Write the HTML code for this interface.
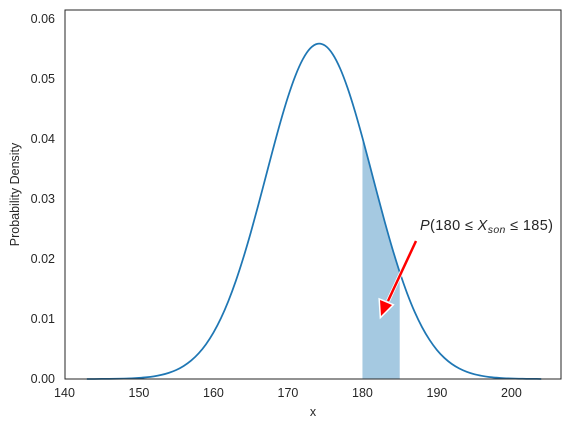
<!DOCTYPE html>
<html><head><meta charset="utf-8"><style>
body{margin:0;background:#fff;}
svg text{font-family:"Liberation Sans","DejaVu Sans",sans-serif;fill:#262626;}
</style></head><body>
<svg id="chart" width="570" height="428" viewBox="0 0 570 428" xmlns="http://www.w3.org/2000/svg">
<g id="plot"></g>
</svg>
<script>
const xs=[143,144,145,146,147,148,149,150,151,152,153,154,155,156,157,158,159,160,161,162,163,164,165,166,167,168,169,170,171,172,173,174,175,176,177,178,179,180,181,182,183,184,185,186,187,188,189,190,191,192,193,194,195,196,197,198,199,200,201,202,203,204];
const density=[0.000004,0.0000073,0.0000131,0.0000229,0.0000395,0.0000666,0.00011,0.000179,0.000285,0.000444,0.000681,0.00102,0.0015,0.00217,0.00307,0.00426,0.0058,0.00774,0.01012,0.01299,0.01634,0.02016,0.02437,0.02891,0.03362,0.03834,0.04288,0.04702,0.05056,0.05331,0.05512,0.05588,0.05555,0.05415,0.05176,0.04851,0.04459,0.04019,0.03552,0.03078,0.02616,0.0218,0.01781,0.01427,0.01121,0.00864,0.00653,0.00483,0.00351,0.0025,0.00175,0.0012,0.0008,0.00053,0.00034,0.00022,0.00013,0.00008,0.00005,0.00003,0.00002,0.00001];
const xTicks=[140,150,160,170,180,190,200];
const yTicks=[0,0.01,0.02,0.03,0.04,0.05,0.06];
const yTickLabels=["0.00","0.01","0.02","0.03","0.04","0.05","0.06"];
const shadeRange=[180,185];

const L=65,R=561,T=10,B=379;
const xMin=140.07,xMax=206.65,yMin=0,yMax=0.0615;
const sx=v=>L+(v-xMin)/(xMax-xMin)*(R-L);
const sy=v=>B-(v-yMin)/(yMax-yMin)*(B-T);
const NS="http://www.w3.org/2000/svg";
const g=document.getElementById('plot');
function mk(tag,attrs){const e=document.createElementNS(NS,tag);for(const k in attrs)e.setAttribute(k,attrs[k]);g.appendChild(e);return e;}
function smooth(P){let s='M'+P[0][0].toFixed(2)+','+P[0][1].toFixed(2);
for(let i=0;i<P.length-1;i++){const p0=P[Math.max(0,i-1)],p1=P[i],p2=P[i+1],p3=P[Math.min(P.length-1,i+2)];
const c1=[p1[0]+(p2[0]-p0[0])/6,p1[1]+(p2[1]-p0[1])/6],c2=[p2[0]-(p3[0]-p1[0])/6,p2[1]-(p3[1]-p1[1])/6];
s+='C'+c1[0].toFixed(2)+','+c1[1].toFixed(2)+' '+c2[0].toFixed(2)+','+c2[1].toFixed(2)+' '+p2[0].toFixed(2)+','+p2[1].toFixed(2);}
return s;}

const sp=[];
for(let i=0;i<xs.length;i++){if(xs[i]>=shadeRange[0]&&xs[i]<=shadeRange[1])sp.push([sx(xs[i]),sy(density[i])]);}
const ad=smooth(sp)+'L'+sx(shadeRange[1])+','+sy(0)+'L'+sx(shadeRange[0])+','+sy(0)+'Z';
const area=mk('path',{d:ad,fill:'#1f77b4','fill-opacity':0.4});



const P=xs.map((x,i)=>[sx(x),sy(density[i])]);
const line=mk('path',{d:smooth(P),fill:'none',stroke:'#1f77b4','stroke-width':1.75});



const frame=mk('rect',{x:L,y:T,width:R-L,height:B-T,fill:'none',stroke:'#262626','stroke-width':1});



xTicks.forEach(t=>{const e=mk('text',{x:sx(t),y:B+18,'text-anchor':'middle','font-size':12.5});e.textContent=t;

});
yTicks.forEach((t,i)=>{const e=mk('text',{x:L-10,y:sy(t)+4,'text-anchor':'end','font-size':12.5});e.textContent=yTickLabels[i];

});

const xt=mk('text',{x:(L+R)/2,y:416,'text-anchor':'middle','font-size':12.5});xt.textContent='x';


const yt=mk('text',{x:0,y:0,'text-anchor':'middle','font-size':12.5,transform:'translate(19,'+((T+B)/2)+') rotate(-90)'});yt.textContent='Probability Density';



const ar=mk('g',{});


ar.innerHTML='<line x1="416" y1="241" x2="388" y2="301" stroke="#fff" stroke-width="4"/><polygon points="381,316 380,300 392,305" fill="#fff" stroke="#fff" stroke-width="3"/><line x1="416" y1="241" x2="388" y2="301" stroke="#ff0000" stroke-width="2.5"/><polygon points="381,316 380,300 392,305" fill="#ff0000"/>';
g.appendChild(ar);

const an=mk('text',{x:420,y:230,'font-size':14.5,textLength:133,lengthAdjust:'spacing'});
an.innerHTML='<tspan font-style="italic">P</tspan>(180 ≤ <tspan font-style="italic">X</tspan><tspan font-style="italic" font-size="10.5" dy="3">son</tspan><tspan dy="-3"> ≤ 185)</tspan>';


</script>
</body></html>
